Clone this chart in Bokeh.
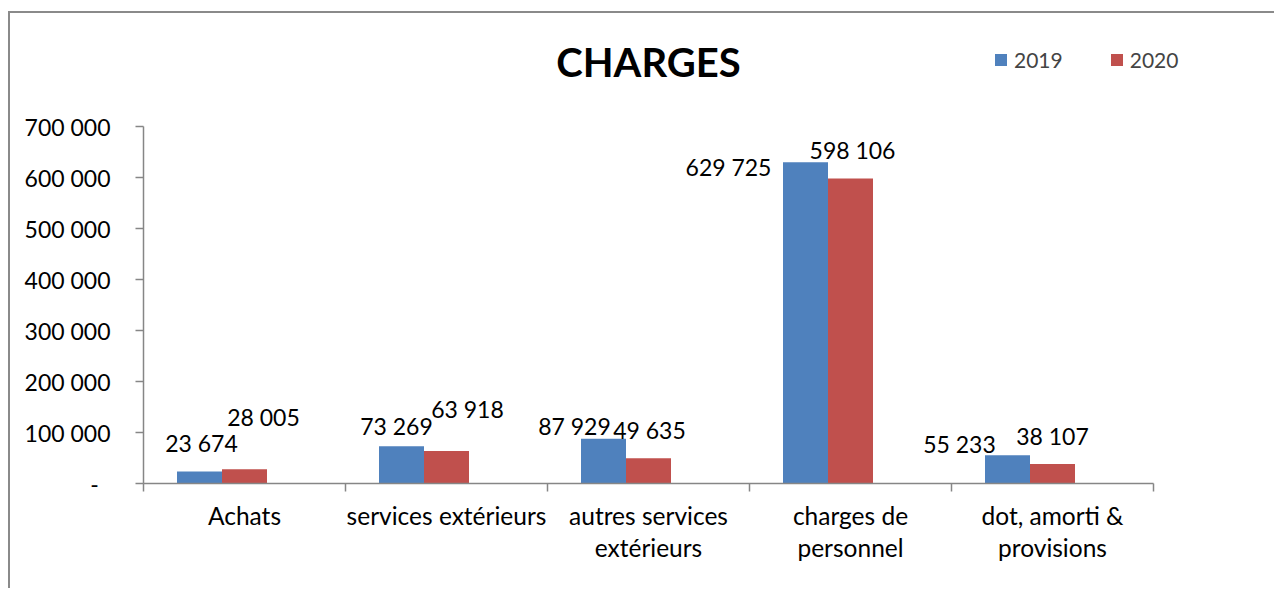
from bokeh.plotting import figure
from bokeh.models import ColumnDataSource, FixedTicker, Label, Legend, LegendItem, Range1d
from bokeh.core.properties import value
from bokeh.embed import file_html
from bokeh.resources import INLINE

# ---- data ----
categories = ["Achats", "services extérieurs", "autres services\nextérieurs",
              "charges de\npersonnel", "dot, amorti &\nprovisions"]
series_names = ["2019", "2020"]
values_2019 = [23674, 73269, 87929, 629725, 55233]
values_2020 = [28005, 63918, 49635, 598106, 38107]
y_ticks = [0, 100000, 200000, 300000, 400000, 500000, 600000, 700000]

# ---- style (label nudges in px, like Excel's moved labels) ----
dx_2019 = [2, -5, -29, -77, -48]
dy_2019 = [19, 11, 4, -14, 2]
dx_2020 = [19, 21, 1, 2, 0]
dy_2020 = [43, 33, 19, 19, 19]
BASE_FIX = 9  # svg baseline correction (px)

BLUE = "#4F81BD"
RED = "#C0504D"
AXIS = "#868686"
FONT = "Lato"

def fmt(v):
    return "-\u00a0\u00a0" if v == 0 else f"{v:,}".replace(",", " ")

n = len(categories)
idx = list(range(n))
bw = 45 / 202
# Excel layout keeps a slot for a third (empty) series: 2019 at -1 slot, 2020 at 0
off_2019, off_2020 = -bw, 0.0

W, H = 1266, 577
MB_L, MB_B = 133, 107
frame_w = W - MB_L
frame_h = H - MB_B
px_y = 700000 / 357
x_end = -0.5 + frame_w * (n / 1010)
y_end = frame_h * px_y

p = figure(width=W, height=H, output_backend="svg", toolbar_location=None,
           x_range=Range1d(-0.5, x_end), y_range=Range1d(0, y_end),
           min_border_left=MB_L, min_border_right=0, min_border_top=0,
           min_border_bottom=MB_B)
p.styles = {"border-top": "2px solid #8a8a8a", "border-left": "2px solid #8a8a8a",
            "margin-left": "8px", "margin-top": "11px"}
p.outline_line_color = None
p.grid.visible = False
p.background_fill_color = "white"

src_a = ColumnDataSource(dict(x=[i + off_2019 for i in idx], top=values_2019,
                              lab=[fmt(v) for v in values_2019], dx=dx_2019,
                              dy=[-(d + BASE_FIX) for d in dy_2019]))
src_b = ColumnDataSource(dict(x=[i + off_2020 for i in idx], top=values_2020,
                              lab=[fmt(v) for v in values_2020], dx=dx_2020,
                              dy=[-(d + BASE_FIX) for d in dy_2020]))

ra = p.vbar(x="x", top="top", width=bw, source=src_a, fill_color=BLUE, line_color=None)
rb = p.vbar(x="x", top="top", width=bw, source=src_b, fill_color=RED, line_color=None)

for s in (src_a, src_b):
    p.text(x="x", y="top", text="lab", source=s, x_offset="dx", y_offset="dy",
           text_align="center", text_baseline="alphabetic",
           text_font=value(FONT), text_font_size="23px", text_color="black")

# x axis
xa = p.xaxis[0]
xa.bounds = (-0.5, n - 0.5)
xa.ticker = FixedTicker(ticks=idx, minor_ticks=[i - 0.5 for i in range(n + 1)])
xa.major_label_overrides = {i: c for i, c in enumerate(categories)}
xa.major_tick_line_color = None
xa.major_tick_out = 0
xa.major_tick_in = 0
xa.minor_tick_line_color = AXIS
xa.minor_tick_line_width = 1.5
xa.minor_tick_out = 8
xa.minor_tick_in = 0
xa.axis_line_color = AXIS
xa.axis_line_width = 1.5
xa.major_label_standoff = 9
xa.major_label_text_font = FONT
xa.major_label_text_font_size = "24.5px"
xa.major_label_text_color = "black"
xa.major_label_text_line_height = 1.12

# y axis
ya = p.yaxis[0]
ya.bounds = (0, y_ticks[-1])
ya.ticker = FixedTicker(ticks=y_ticks, minor_ticks=[])
ya.major_label_overrides = {t: fmt(t) for t in y_ticks}
ya.major_tick_line_color = AXIS
ya.major_tick_line_width = 1.5
ya.major_tick_out = 8
ya.major_tick_in = 0
ya.minor_tick_line_color = None
ya.axis_line_color = AXIS
ya.axis_line_width = 1.5
ya.major_label_standoff = 25
ya.major_label_text_font = FONT
ya.major_label_text_font_size = "23px"
ya.major_label_text_color = "black"

# title
p.add_layout(Label(x=(n - 1) / 2, y=422 * px_y, text="CHARGES", text_align="center",
                   text_baseline="alphabetic", text_font=FONT, text_font_size="40px",
                   text_font_style="bold", text_color="black"))

legend = Legend(items=[LegendItem(label=series_names[0], renderers=[ra]),
                       LegendItem(label=series_names[1], renderers=[rb])],
                orientation="horizontal", location=(850, 411), padding=0, margin=0,
                spacing=46, glyph_width=15, glyph_height=15, label_standoff=6,
                label_text_font=FONT, label_text_font_size="21px",
                label_height=21, border_line_color=None, background_fill_alpha=0)
p.add_layout(legend)

open("out.html", "w").write(file_html(p, INLINE))
